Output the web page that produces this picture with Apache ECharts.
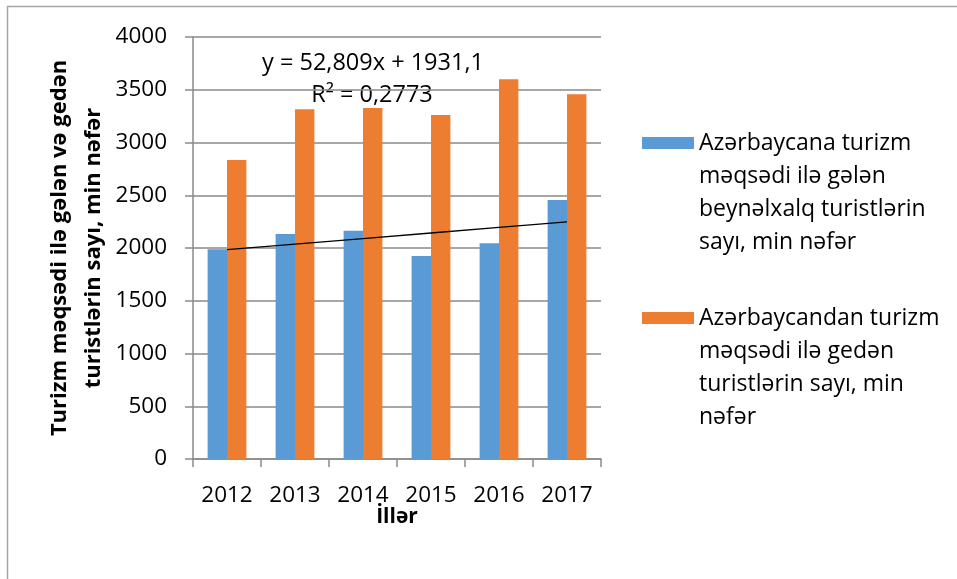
<!DOCTYPE html>
<html>
<head>
  <meta charset="utf-8">
  <title>ECharts</title>
  <script src="https://cdn.jsdelivr.net/npm/echarts@6/dist/echarts.min.js"></script>
</head>
<body style="margin:0;background:#fff">
<div id="main" style="width:957px;height:579px"></div>
<script type="text/javascript">
  // data
  var years = ['2012', '2013', '2014', '2015', '2016', '2017'];
  var gelen = [1987, 2132, 2163, 1923, 2046, 2455];
  var geden = [2834, 3315, 3327, 3261, 3600, 3457];
  // trend line values (y = 52,809x + 1931,1 at x = 1..6)
  var trend = [1983.9, 2036.7, 2089.5, 2142.3, 2195.1, 2247.9];
  var names = [
    'Azərbaycana turizm məqsədi ilə gələn beynəlxalq turistlərin sayı, min nəfər',
    'Azərbaycandan turizm məqsədi ilə gedən turistlərin sayı, min nəfər'
  ];
  var legendLines = {};
  legendLines[names[0]] = 'Azərbaycana turizm\nməqsədi ilə gələn\nbeynəlxalq turistlərin\nsayı, min nəfər';
  legendLines[names[1]] = 'Azərbaycandan turizm\nməqsədi ilə gedən\nturistlərin sayı, min\nnəfər';

  var font = 'Open Sans';
  var gray = '#8a8a8a';

  var myChart = echarts.init(document.getElementById('main'));

  // icon sits next to the first line: pad with 3 empty lines above so the
  // first real line lands in the middle of the text block
  function legendOpt(name, top) {
    return {
      data: [name],
      orient: 'vertical',
      left: 642,
      top: top,
      padding: 0,
      icon: 'rect',
      itemWidth: 52,
      itemHeight: 12,
      selectedMode: false,
      formatter: function (n) { return '\n\n\n' + legendLines[n]; },
      textStyle: { fontFamily: font, fontSize: 23, color: '#000', lineHeight: 33 }
    };
  }

  var option = {
    animation: false,
    textStyle: { fontFamily: font },
    grid: { left: 193, right: 356, top: 37, bottom: 120 },
    legend: [legendOpt(names[0], 143 - 115.5), legendOpt(names[1], 318 - 115.5)],
    xAxis: {
      type: 'category',
      data: years,
      name: 'İllər',
      nameLocation: 'middle',
      nameGap: 48,
      nameMoveOverlap: false,
      nameTextStyle: { fontFamily: font, fontSize: 21, fontWeight: 'bold', color: '#000' },
      axisLine: { lineStyle: { color: gray, width: 1.5 } },
      axisTick: { show: true, length: 8, lineStyle: { color: gray, width: 1.5 } },
      axisLabel: { fontFamily: font, fontSize: 22.5, color: '#000', margin: 25 }
    },
    yAxis: {
      type: 'value',
      min: 0,
      max: 4000,
      interval: 500,
      name: 'Turizm məqsədi ilə gələn və gedən\nturistlərin sayı, min nəfər',
      nameLocation: 'middle',
      nameGap: 82,
      nameTextStyle: { fontFamily: font, fontSize: 22, fontWeight: 'bold', color: '#000', lineHeight: 34 },
      axisLine: { show: true, lineStyle: { color: gray, width: 1.5 } },
      axisTick: { show: true, length: 8, lineStyle: { color: gray, width: 1.5 } },
      axisLabel: {
        fontFamily: font, fontSize: 22.5, color: '#000', margin: 26,
        formatter: function (v) { return String(v); }
      },
      splitLine: { lineStyle: { color: gray, width: 1.5 } }
    },
    graphic: [
      {
        type: 'rect', silent: true, z: -10,
        shape: { x: 7.5, y: 6.5, width: 980, height: 600 },
        style: { fill: 'none', stroke: '#a6a6a6', lineWidth: 1.5 }
      },
      {
        type: 'text', silent: true,
        x: 373, y: 63,
        style: { text: 'y = 52,809x + 1931,1', font: '23.5px "Open Sans"', fill: '#000', align: 'center', verticalAlign: 'middle' }
      },
      {
        type: 'text', silent: true,
        x: 372, y: 95,
        style: { text: 'R² = 0,2773', font: '23.5px "Open Sans"', fill: '#000', align: 'center', verticalAlign: 'middle' }
      }
    ],
    series: [
      {
        name: names[0],
        type: 'bar',
        data: gelen,
        barGap: '0%',
        barCategoryGap: '43%',
        itemStyle: { color: '#5b9bd5' }
      },
      {
        name: names[1],
        type: 'bar',
        data: geden,
        barGap: '0%',
        barCategoryGap: '43%',
        itemStyle: { color: '#ed7d31' }
      },
      {
        name: 'trend',
        type: 'line',
        data: trend,
        symbol: 'none',
        z: 5,
        lineStyle: { color: '#000', width: 1.3 }
      }
    ]
  };
  myChart.setOption(option);
</script>
</body>
</html>
